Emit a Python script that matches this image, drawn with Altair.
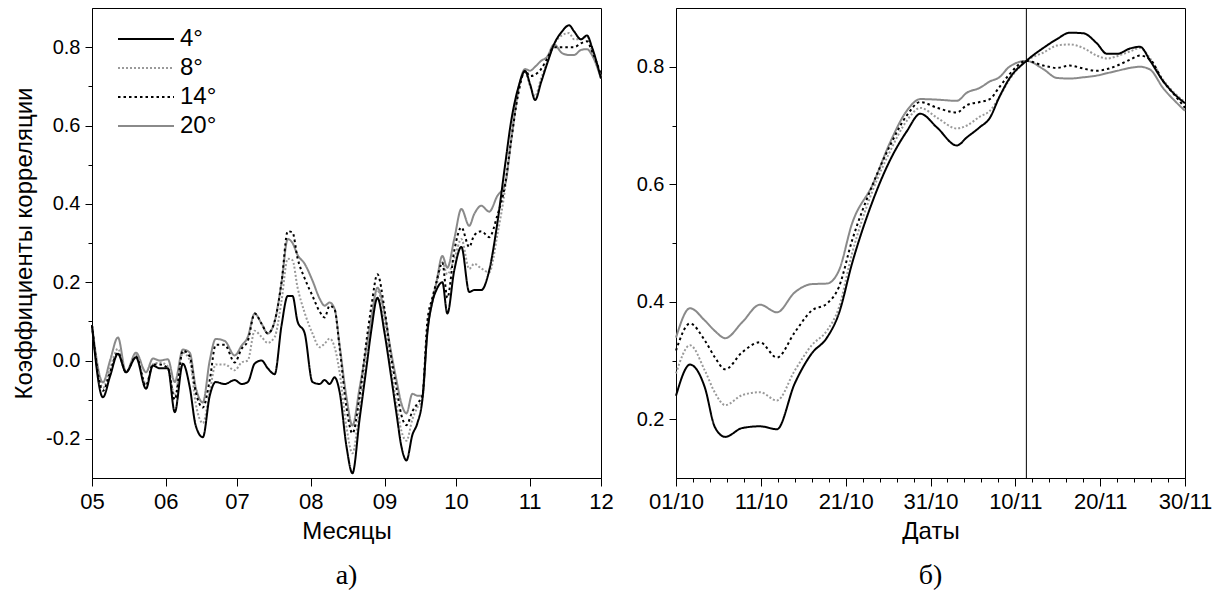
import altair as alt
import pandas as pd

SERIES = ["4°", "8°", "14°", "20°"]
DRAW_ORDER = ["20°", "8°", "14°", "4°"]
COLORS = ["#000000", "#9a9a9a", "#000000", "#8a8a8a"]
DASHES = [[1, 0], [2, 2], [2.5, 3], [1, 0]]

# ---- panel a): days since 1 May ----
LEFT_START = "2019-05-01"
left_days = [0, 4.6, 7.6, 10.9, 14.3, 18.5, 22.7, 25.6, 28.5, 31.9,
             34.8, 38.2, 41.1, 43.6, 46.6, 49.5, 52.0, 55.8, 60.0, 62.9,
             65.5, 68.4, 71.3, 73.9, 76.8, 79.7, 82.3, 84.3, 86.4, 89.4,
             92.7, 95.7, 97.8, 99.9, 102.0, 104.1, 107.0, 109.5, 112.5, 115.4,
             117.5, 120.0, 123.0, 125.5, 128.0, 130.1, 132.2, 134.7, 136.8, 138.9,
             141.0, 143.1, 144.8, 147.3, 149.4, 152.3, 155.3, 158.6, 160.7, 163.7,
             167.0, 170.4, 173.7, 176.2, 179.2, 182.1, 184.2, 186.3, 188.8, 191.3,
             194.3, 197.6, 200.6, 202.7, 205.6, 208.1, 210.2, 214.0]
left_4 = [0.09, -0.094, -0.04, 0.017, -0.03, 0.008, -0.072, -0.013, -0.02, -0.02,
          -0.132, -0.008, -0.068, -0.166, -0.196, -0.09, -0.055, -0.06, -0.05, -0.06,
          -0.055, -0.008, 0.0, -0.02, -0.035, 0.09, 0.165, 0.165, 0.1, 0.07,
          -0.055, -0.06, -0.05, -0.06, -0.043, -0.08, -0.22, -0.288, -0.15, -0.017,
          0.08, 0.16, 0.07, -0.03, -0.135, -0.22, -0.255, -0.19, -0.16, -0.1,
          0.07, 0.15, 0.18, 0.2, 0.12, 0.23, 0.29, 0.175, 0.18, 0.18,
          0.23, 0.35, 0.5, 0.61, 0.696, 0.739, 0.705, 0.665, 0.71, 0.757,
          0.808, 0.84, 0.856, 0.84, 0.82, 0.83, 0.8, 0.72]
left_8 = [0.09, -0.07, -0.02, 0.03, -0.03, 0.015, -0.06, -0.01, -0.005, -0.015,
          -0.09, 0.02, 0.0, -0.11, -0.16, -0.08, -0.01, -0.01, -0.025, -0.005,
          0.0, 0.076, 0.06, 0.045, 0.06, 0.153, 0.26, 0.256, 0.187, 0.122,
          0.069, 0.034, 0.043, 0.056, 0.034, -0.03, -0.17, -0.237, -0.12, 0.02,
          0.11, 0.18, 0.1, -0.01, -0.11, -0.18, -0.205, -0.15, -0.12, -0.1,
          0.085, 0.15, 0.19, 0.25, 0.22, 0.26, 0.31, 0.234, 0.247, 0.235,
          0.225, 0.32, 0.44, 0.57, 0.69, 0.735, 0.7, 0.675, 0.72, 0.76,
          0.808, 0.83, 0.836, 0.82, 0.82, 0.828, 0.79, 0.725]
left_14 = [0.09, -0.077, -0.03, 0.02, -0.03, 0.01, -0.064, -0.01, -0.01, -0.02,
           -0.1, 0.025, 0.01, -0.08, -0.12, -0.05, 0.04, 0.04, -0.005, 0.03,
           0.05, 0.12, 0.094, 0.069, 0.1, 0.2, 0.33, 0.327, 0.262, 0.21,
           0.165, 0.125, 0.11, 0.14, 0.13, 0.033, -0.12, -0.186, -0.09, 0.05,
           0.14, 0.22, 0.13, 0.02, -0.07, -0.14, -0.165, -0.13, -0.11, -0.09,
           0.1, 0.16, 0.2, 0.25, 0.16, 0.28, 0.34, 0.29, 0.32, 0.33,
           0.315, 0.37, 0.45, 0.56, 0.68, 0.74, 0.726, 0.73, 0.744, 0.77,
           0.8, 0.8, 0.8, 0.8, 0.81, 0.815, 0.79, 0.73]
left_20 = [0.09, -0.056, 0.0, 0.059, -0.03, 0.02, -0.03, 0.005, 0.0, 0.003,
           -0.055, 0.028, 0.02, -0.068, -0.107, 0.0, 0.055, 0.05, 0.013, 0.038,
           0.06, 0.12, 0.094, 0.069, 0.1, 0.2, 0.31, 0.3, 0.27, 0.247,
           0.204, 0.158, 0.14, 0.148, 0.132, 0.04, -0.094, -0.166, -0.07, 0.033,
           0.11, 0.186, 0.12, 0.03, -0.05, -0.11, -0.135, -0.085, -0.09, -0.09,
           0.076, 0.15, 0.2, 0.267, 0.237, 0.31, 0.387, 0.344, 0.374, 0.395,
           0.38, 0.42, 0.45, 0.56, 0.69, 0.744, 0.74, 0.75, 0.765, 0.775,
           0.807, 0.785, 0.78, 0.78, 0.793, 0.795, 0.78, 0.72]

# ---- panel б): days since 1 October ----
RIGHT_START = "2019-10-01"
right_days = [0, 1.65, 3.4, 4.6, 5.8, 7.8, 9.9, 11.9, 14.0, 16.0,
              17.8, 19.2, 20.75, 23.2, 25.2, 27.2, 28.8, 30.8, 33.1, 34.3,
              35.8, 37.0, 38.1, 39.3, 41.3, 43.3, 44.9, 46.4, 48.0, 49.6,
              50.8, 52.0, 53.5, 54.7, 55.9, 57.4, 59.0, 60.0]
right_4 = [0.24, 0.293, 0.254, 0.186, 0.17, 0.185, 0.188, 0.183, 0.261, 0.312,
           0.339, 0.38, 0.465, 0.572, 0.64, 0.69, 0.72, 0.696, 0.666, 0.68,
           0.697, 0.713, 0.748, 0.78, 0.81, 0.832, 0.847, 0.858, 0.857, 0.84,
           0.822, 0.822, 0.831, 0.834, 0.81, 0.776, 0.75, 0.738]
right_8 = [0.278, 0.326, 0.283, 0.245, 0.224, 0.241, 0.246, 0.232, 0.283, 0.326,
           0.351, 0.39, 0.482, 0.59, 0.655, 0.708, 0.73, 0.713, 0.695, 0.7,
           0.715, 0.725, 0.748, 0.778, 0.81, 0.824, 0.836, 0.838, 0.832, 0.819,
           0.814, 0.818, 0.826, 0.832, 0.814, 0.778, 0.752, 0.74]
right_14 = [0.317, 0.363, 0.334, 0.305, 0.285, 0.314, 0.331, 0.305, 0.348, 0.385,
            0.397, 0.425, 0.504, 0.6, 0.665, 0.717, 0.74, 0.73, 0.722, 0.735,
            0.74, 0.745, 0.765, 0.787, 0.81, 0.802, 0.798, 0.802, 0.797, 0.793,
            0.796, 0.802, 0.812, 0.819, 0.812, 0.776, 0.748, 0.73]
right_20 = [0.339, 0.389, 0.368, 0.35, 0.338, 0.365, 0.395, 0.382, 0.416, 0.43,
            0.431, 0.453, 0.533, 0.6, 0.67, 0.725, 0.745, 0.744, 0.742, 0.756,
            0.764, 0.775, 0.782, 0.8, 0.81, 0.796, 0.781, 0.78, 0.782, 0.785,
            0.789, 0.793, 0.798, 0.8, 0.795, 0.764, 0.739, 0.725]
MARK_DAY = [41.3]

Y_LEFT_TICKS = [-0.2, -0.1, 0.0, 0.1, 0.2, 0.3, 0.4, 0.5, 0.6, 0.7, 0.8]
Y_RIGHT_TICKS = [0.2, 0.3, 0.4, 0.5, 0.6, 0.7, 0.8]
MONTHS = [5, 6, 7, 8, 9, 10, 11, 12]

FONT = "Liberation Sans"


def to_frame(start, days, series):
    rows = []
    t0 = pd.Timestamp(start)
    for name in DRAW_ORDER:
        for d, v in zip(days, series[name]):
            rows.append({"date": (t0 + pd.to_timedelta(d, unit="D")).strftime("%Y-%m-%dT%H:%M:%S"),
                         "value": v, "series": name})
    return pd.DataFrame(rows)


left_df = to_frame(LEFT_START, left_days, {"4°": left_4, "8°": left_8, "14°": left_14, "20°": left_20})
right_df = to_frame(RIGHT_START, right_days, {"4°": right_4, "8°": right_8, "14°": right_14, "20°": right_20})
mark_df = pd.DataFrame({"date": [(pd.Timestamp(RIGHT_START) + pd.to_timedelta(d, unit="D")).strftime("%Y-%m-%dT%H:%M:%S") for d in MARK_DAY]})

legend = alt.Legend(title=None, orient="none", legendX=42, legendY=19,
                    symbolType="M-8,0H8", symbolSize=49, symbolStrokeWidth=2,
                    labelFont=FONT, labelFontSize=24, labelColor="black",
                    labelOffset=22, rowPadding=5, padding=0)
color = alt.Color("series:N", scale=alt.Scale(domain=SERIES, range=COLORS), legend=legend)
dash = alt.StrokeDash("series:N", scale=alt.Scale(domain=SERIES, range=DASHES), legend=legend)

major_y = "abs(round(datum.value*10)) % 2 == 0"
y_label = "(" + major_y + ") ? replace(format(datum.value, '.1f'), '\u2212', '-') : ''"
y_tick = {"condition": {"test": major_y, "value": 7}, "value": 4}

W, H = 509, 470
CAPTION = dict(orient="bottom", font="Liberation Serif", fontSize=28, fontWeight="normal",
               frame="group", anchor="middle", offset=19, color="black")

left_x_vals = [alt.DateTime(year=2019, month=m, date=1) for m in MONTHS]
left = alt.Chart(left_df).mark_line(strokeWidth=2, interpolate="monotone").encode(
    x=alt.X("date:T",
            scale=alt.Scale(domain=[left_x_vals[0], left_x_vals[-1]], nice=False),
            axis=alt.Axis(values=left_x_vals, format="%m", title="Месяцы", tickSize=8,
                          labelFontSize=22, labelPadding=5, titlePadding=7,
                          labelFlush=False, labelOverlap=False)),
    y=alt.Y("value:Q", scale=alt.Scale(domain=[-0.3, 0.9], nice=False, zero=False),
            axis=alt.Axis(values=Y_LEFT_TICKS, labelExpr=y_label, tickSize=y_tick,
                          title="Коэффициенты корреляции", labelPadding=5, titlePadding=9)),
    color=color, strokeDash=dash,
).properties(width=W, height=H, title=alt.TitleParams("а)", **CAPTION))

right_x_vals = ([alt.DateTime(year=2019, month=10, date=d) for d in range(1, 32, 2)]
                + [alt.DateTime(year=2019, month=11, date=d) for d in range(2, 31, 2)])
major_x = "(month(datum.value)==9 && date(datum.value)%10==1) || (month(datum.value)==10 && date(datum.value)%10==0)"
x_label = "(" + major_x + ") ? timeFormat(datum.value, '%d/%m') : ''"
x_tick = {"condition": {"test": major_x, "value": 8}, "value": 4}

right_x_axis = alt.Axis(values=right_x_vals, labelExpr=x_label, tickSize=x_tick, title="Даты",
                        labelFontSize=22, labelPadding=5, titlePadding=7,
                        labelFlush=False, labelOverlap=False)
right_x_scale = alt.Scale(domain=[right_x_vals[0], right_x_vals[-1]], nice=False)

right_lines = alt.Chart(right_df).mark_line(strokeWidth=2, interpolate="monotone").encode(
    x=alt.X("date:T", scale=right_x_scale, axis=right_x_axis),
    y=alt.Y("value:Q", scale=alt.Scale(domain=[0.1, 0.9], nice=False, zero=False),
            axis=alt.Axis(values=Y_RIGHT_TICKS, labelExpr=y_label, tickSize=y_tick, title=None,
                          labelPadding=5)),
    color=color, strokeDash=dash,
)
right_rule = alt.Chart(mark_df).mark_rule(color="black", strokeWidth=1).encode(
    x=alt.X("date:T", scale=right_x_scale, axis=right_x_axis))
right = alt.layer(right_lines, right_rule).properties(
    width=W, height=H, title=alt.TitleParams("б)", **CAPTION))

chart = alt.hconcat(left, right, spacing=75, bounds="flush").properties(
    padding={"left": 12, "top": 7, "right": 3, "bottom": 0}, background="white"
).configure_view(stroke="black", strokeWidth=1).configure_axis(
    labelFont=FONT, titleFont=FONT, labelFontSize=20, titleFontSize=24,
    labelColor="black", titleColor="black", tickColor="black", domainColor="black",
    titleFontWeight="normal", grid=False
)

chart.save("out.html", embed_options={"renderer": "svg", "actions": False})
